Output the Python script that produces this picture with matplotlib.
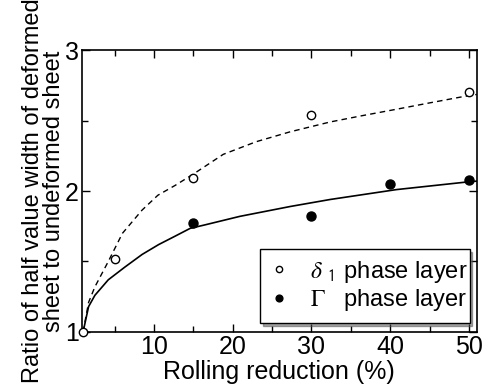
import numpy as np
import matplotlib
matplotlib.use('Agg')
import matplotlib.pyplot as plt
from matplotlib.ticker import MultipleLocator

plt.rcParams['font.family'] = ['Liberation Sans', 'DejaVu Sans']
plt.rcParams['mathtext.fontset'] = 'stix'

# Medidas (pontos)
x_delta = [1, 5, 15, 30, 50]
y_delta = [1.0, 1.52, 2.09, 2.54, 2.70]
x_gamma = [15, 30, 40, 50]
y_gamma = [1.77, 1.82, 2.05, 2.08]

# Curvas
x_dash = [1, 1.7, 2.5, 4.2, 6, 8.5, 10.5, 12.7, 15, 18.8, 23, 27.3, 32.4, 36.5, 40.8, 45, 49.3, 51]
y_dash = [1.0, 1.21, 1.32, 1.50, 1.70, 1.865, 1.97, 2.04, 2.12, 2.26, 2.35, 2.42, 2.49, 2.535, 2.58, 2.625, 2.67, 2.685]
x_sol = [1, 1.7, 2.5, 4.2, 6.3, 8.5, 10.6, 12.7, 14.6, 16.5, 20.9, 27.3, 32.4, 40.8, 50.1, 51]
y_sol = [1.0, 1.18, 1.26, 1.37, 1.46, 1.55, 1.62, 1.68, 1.735, 1.76, 1.82, 1.89, 1.94, 2.01, 2.066, 2.07]

fig = plt.figure(figsize=(4.89, 3.91), dpi=100)
ax = fig.add_axes([0.167, 0.151, 0.808, 0.721])

ax.plot(x_dash, y_dash, color='black', linestyle=(0, (4, 3)), linewidth=1.0)
ax.plot(x_sol, y_sol, color='black', linestyle='-', linewidth=1.2)
ax.plot(x_delta, y_delta, linestyle='none', marker='o', markersize=6,
        markerfacecolor='white', markeredgecolor='black', markeredgewidth=1.0,
        label=r'$\delta$ $_{\mathsf{1}}$ phase layer', clip_on=False, zorder=5)
ax.plot(x_gamma, y_gamma, linestyle='none', marker='o', markersize=6.5,
        color='black', label=r'$\Gamma$   phase layer', clip_on=False, zorder=5)

ax.set_xlim(0.82, 51)
ax.set_ylim(1, 3)
ax.xaxis.set_major_locator(MultipleLocator(10))
ax.xaxis.set_minor_locator(MultipleLocator(5))
ax.yaxis.set_major_locator(MultipleLocator(1))
ax.yaxis.set_minor_locator(MultipleLocator(0.5))
ax.tick_params(which='both', direction='in', top=True, right=True, width=1.0)
ax.tick_params(which='major', length=6, labelsize=18, pad=2)
ax.tick_params(which='minor', length=4)
for s in ax.spines.values():
    s.set_linewidth(1.2)

ax.set_xlabel('Rolling reduction (%)', fontsize=18, labelpad=1)
ax.set_ylabel('Ratio of half value width of deformed\nsheet to undeformed sheet',
              fontsize=17, labelpad=0, linespacing=0.95)

leg = ax.legend(loc='lower left', bbox_to_anchor=(0.451, 0.032, 0.531, 0.268),
                mode='expand', fontsize=17, frameon=True, fancybox=False,
                shadow=True, edgecolor='black', markerscale=0.75,
                handlelength=0.8, handletextpad=0.9, borderpad=0.42,
                borderaxespad=0, labelspacing=0.1)
leg.get_frame().set_linewidth(1.0)

fig.savefig('out.png', dpi=100)
